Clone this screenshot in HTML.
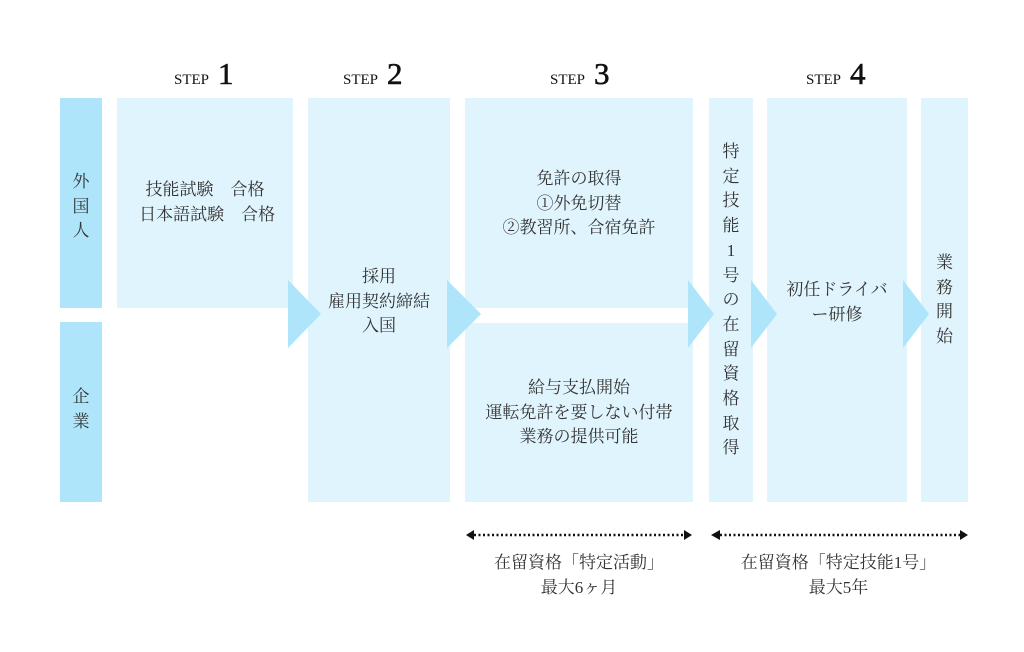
<!DOCTYPE html>
<html><head><meta charset="utf-8"><style>
body{margin:0;background:#fff;}
#c{position:relative;width:1024px;height:652px;overflow:hidden;font-family:"Liberation Serif","Noto Serif CJK SC","Noto Sans CJK JP",serif;color:#333;font-size:17px;}
.b{position:absolute;background:#e0f4fd;}
.d{position:absolute;background:#aee5fb;}
.t{position:absolute;text-align:center;line-height:24.5px;white-space:nowrap;}
.v{position:absolute;text-align:center;line-height:24.7px;}
.s{position:absolute;top:56px;font-size:15px;color:#111;white-space:nowrap;}
.s b{font-size:31px;font-weight:normal;margin-left:9px;-webkit-text-stroke:0.6px #111;}
</style></head><body><div id="c">
<div class="s" style="left:174px">STEP<b>1</b></div>
<div class="s" style="left:343px">STEP<b>2</b></div>
<div class="s" style="left:550px">STEP<b>3</b></div>
<div class="s" style="left:806px">STEP<b>4</b></div>

<div class="d" style="left:60px;top:98px;width:42px;height:210px"></div>
<div class="d" style="left:60px;top:322px;width:42px;height:180px"></div>
<div class="v" style="left:60px;top:170px;width:42px">外<br>国<br>人</div>
<div class="v" style="left:60px;top:385px;width:42px">企<br>業</div>

<div class="b" style="left:117px;top:98px;width:176px;height:210px"></div>
<div class="t" style="left:117px;top:178px;width:176px">技能試験　合格<br>&nbsp;日本語試験　合格</div>

<div class="b" style="left:308px;top:98px;width:142px;height:404px"></div>
<div class="t" style="left:308px;top:265px;width:142px">採用<br>雇用契約締結<br>入国</div>

<div class="b" style="left:465px;top:98px;width:228px;height:210px"></div>
<div class="b" style="left:465px;top:323px;width:228px;height:179px"></div>
<div class="t" style="left:465px;top:167px;width:228px">免許の取得<br>①外免切替<br>②教習所、合宿免許</div>
<div class="t" style="left:465px;top:376px;width:228px">給与支払開始<br>運転免許を要しない付帯<br>業務の提供可能</div>

<div class="b" style="left:709px;top:98px;width:44px;height:404px"></div>
<div class="v" style="left:709px;top:140px;width:44px">特<br>定<br>技<br>能<br>1<br>号<br>の<br>在<br>留<br>資<br>格<br>取<br>得</div>

<div class="b" style="left:767px;top:98px;width:140px;height:404px"></div>
<div class="t" style="left:767px;top:278px;width:140px;white-space:normal;padding:0 12px;box-sizing:border-box">初任ドライバ<br>ー研修</div>

<div class="b" style="left:921px;top:98px;width:47px;height:404px"></div>
<div class="v" style="left:921px;top:251px;width:47px">業<br>務<br>開<br>始</div>

<svg style="position:absolute;left:0;top:0" width="1024" height="652">
<g fill="#aee5fb">
<polygon points="288,280 321,314 288,348"/>
<polygon points="447,280 481,314 447,348"/>
<polygon points="688,280 714,314 688,348"/>
<polygon points="751,280 777,314 751,348"/>
<polygon points="903,280 929,314 903,348"/>
</g>
<g stroke="#111" stroke-width="2.5" stroke-dasharray="2 2.5">
<line x1="474" y1="535" x2="684" y2="535"/>
<line x1="720" y1="535" x2="960" y2="535"/>
</g>
<g fill="#111">
<polygon points="466,535 474,530 474,540"/>
<polygon points="692,535 684,530 684,540"/>
<polygon points="711,535 720,530 720,540"/>
<polygon points="968,535 960,530 960,540"/>
</g>
</svg>
<div class="t" style="left:465px;top:551px;width:228px">在留資格「特定活動」<br>最大6ヶ月</div>
<div class="t" style="left:709px;top:551px;width:259px">在留資格「特定技能1号」<br>最大5年</div>
</div></body></html>
